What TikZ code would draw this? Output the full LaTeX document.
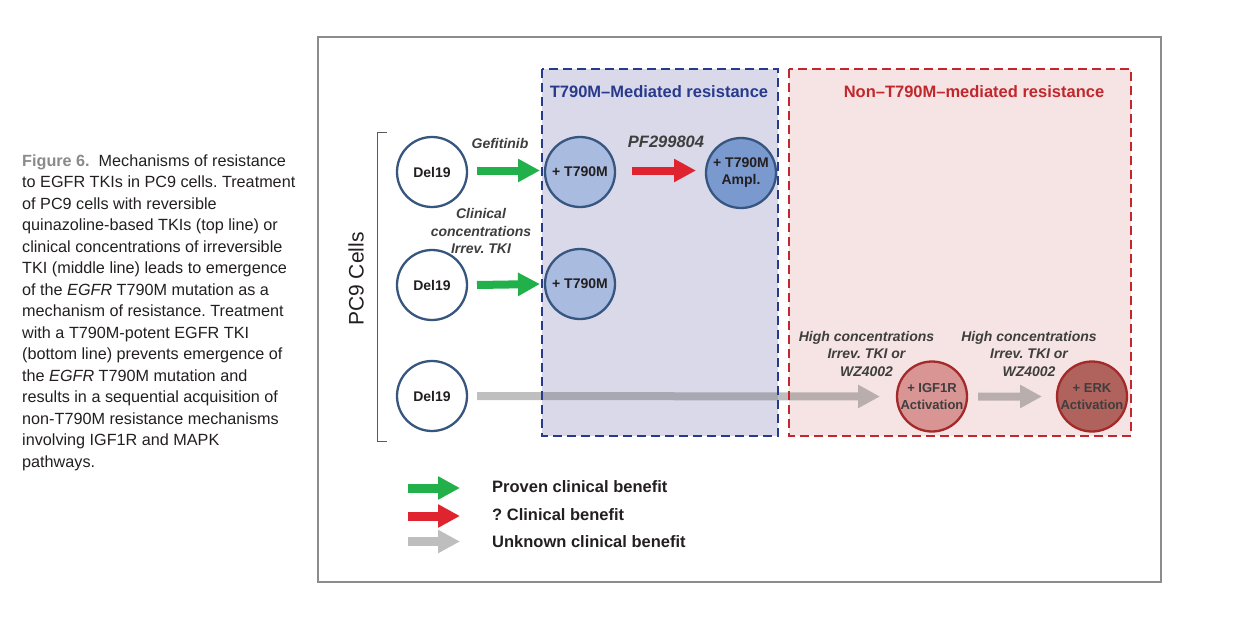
\documentclass[tikz,border=0pt]{standalone}
\usepackage{fontspec}
\setmainfont{Liberation Sans}
\usetikzlibrary{arrows.meta}
\frenchspacing
\definecolor{bluefill}{HTML}{D9D9EA}
\definecolor{blueedge}{HTML}{283A8C}
\definecolor{redfill}{HTML}{F5E4E3}
\definecolor{rededge}{HTML}{C1272D}
\definecolor{circedge}{HTML}{36557F}
\definecolor{t790fill}{HTML}{A9BCE0}
\definecolor{amplfill}{HTML}{7A9ACF}
\definecolor{igffill}{HTML}{D99494}
\definecolor{erkfill}{HTML}{B0625C}
\definecolor{darkred}{HTML}{A3292B}
\definecolor{garrowc}{HTML}{22B04B}
\definecolor{rarrowc}{HTML}{E0242F}
\definecolor{grayarrowc}{HTML}{BEBEBE}
\definecolor{grayarrowt}{HTML}{636363}
\definecolor{labelgray}{HTML}{3E3E3E}
\definecolor{captiongray}{HTML}{8A8A8A}
\definecolor{textblack}{HTML}{231F20}
\definecolor{framegray}{HTML}{8C8C8C}
\begin{document}
\begin{tikzpicture}[x=1pt,y=-1pt,
  cell/.style={circle, minimum size=70pt, inner sep=0pt, outer sep=0pt, line width=2.3pt,
    draw=circedge, font=\fontsize{14}{17}\selectfont\bfseries, text=textblack, align=center},
  t790cell/.style={cell, fill=t790fill},
  amplcell/.style={cell, fill=amplfill},
  igfcell/.style={cell, fill=igffill, draw=darkred, text=labelgray, font=\fontsize{13}{16.5}\selectfont\bfseries},
  erkcell/.style={cell, fill=erkfill, draw=darkred, text=labelgray, font=\fontsize{13}{16.5}\selectfont\bfseries},
  fatarrow/.style={line width=8pt, -{Triangle[length=22pt,width=22pt]}},
  greenarrow/.style={fatarrow, draw=garrowc, fill=garrowc},
  redarrow/.style={fatarrow, draw=rarrowc, fill=rarrowc},
  grayarrow/.style={fatarrow, draw=grayarrowc, fill=grayarrowc},
  transarrow/.style={fatarrow, draw=grayarrowt, fill=grayarrowt},
  druglabel/.style={font=\fontsize{14}{17.5}\selectfont\bfseries\itshape, text=labelgray, align=center, inner sep=0pt},
  boxtitle/.style={font=\fontsize{16.5}{19}\selectfont\bfseries, inner sep=0pt},
  legendtext/.style={font=\fontsize{16.5}{19}\selectfont\bfseries, text=textblack, anchor=mid west, inner sep=0pt},
  captionline/.style={font=\fontsize{16.2}{19}\selectfont, text=textblack, anchor=mid west, inner sep=0pt},
  dashbox/.style={line width=2.6pt, dash pattern=on 9pt off 5pt}
]
\useasboundingbox (0,0) rectangle (1247,621);
% caption
\node[captionline] (c1) at (22,163.5) {{\color{captiongray}\bfseries Figure 6.}\ \ Mechanisms of resistance};
\node[captionline] (c2) at (22,185) {to EGFR TKIs in PC9 cells. Treatment};
\node[captionline] (c3) at (22,206.5) {of PC9 cells with reversible};
\node[captionline] (c4) at (22,228) {quinazoline-based TKIs (top line) or};
\node[captionline] (c5) at (22,249.5) {clinical concentrations of irreversible};
\node[captionline] (c6) at (22,271) {TKI (middle line) leads to emergence};
\node[captionline] (c7) at (22,292.5) {of the \textit{EGFR} T790M mutation as a};
\node[captionline] (c8) at (22,314) {mechanism of resistance. Treatment};
\node[captionline] (c9) at (22,335.5) {with a T790M-potent EGFR TKI};
\node[captionline] (c10) at (22,357) {(bottom line) prevents emergence of};
\node[captionline] (c11) at (22,378.5) {the \textit{EGFR} T790M mutation and};
\node[captionline] (c12) at (22,400) {results in a sequential acquisition of};
\node[captionline] (c13) at (22,421.5) {non-T790M resistance mechanisms};
\node[captionline] (c14) at (22,443) {involving IGF1R and MAPK};
\node[captionline] (c15) at (22,464.5) {pathways.};
% frame
\draw[line width=2.5pt, draw=framegray] (318,37) rectangle (1161,582);
% boxes
\fill[bluefill] (542,69) rectangle (778,436);
\fill[redfill] (789,69) rectangle (1131,436);
\node[boxtitle, text=blueedge] (bt) at (659,92) {T790M–Mediated resistance};
\node[boxtitle, text=rededge] (rt) at (974,92) {Non–T790M–mediated resistance};
% bracket
\draw[line width=0.9pt, draw=black!65] (387,132) -- (377.5,132) -- (377.5,441.5) -- (387,441.5);
\node[rotate=90, font=\fontsize{21}{24}\selectfont, text=textblack, inner sep=0pt] (pc9) at (356,279) {PC9 Cells};
% cells
\node[cell, fill=white] (d1) at (432,172) {Del19};
\node[cell, fill=white] (d2) at (432,285) {Del19};
\node[cell, fill=white] (d3) at (432,396) {Del19};
\node[t790cell] (t1) at (580,172) {+ T790M};
\node[t790cell] (t2) at (580,284) {+ T790M};
\node[amplcell] (a1) at (741,173) {+ T790M\\Ampl.};
\node[igfcell] (i1) at (932,396.5) {+ IGF1R\\Activation};
\node[erkcell] (e1) at (1092,396.5) {+ ERK\\Activation};
% arrows
\begin{scope}[transparency group, opacity=0.41]
\draw[transarrow] ([xshift=10pt]d3.east) -- ([xshift=-17pt]i1.west);
\draw[transarrow] ([xshift=11pt]i1.east) -- ([xshift=-15pt]e1.west);
\end{scope}
\draw[dashbox, draw=blueedge] (542,69) rectangle (778,436);
\draw[dashbox, draw=rededge] (789,69) rectangle (1131,436);
\draw[greenarrow] ([xshift=10pt,yshift=1.5pt]d1.east) -- ([xshift=-5pt,yshift=1.5pt]t1.west);
\draw[greenarrow] ([xshift=10pt]d2.east) -- ([xshift=-5pt]t2.west);
\draw[redarrow] ([xshift=17pt,yshift=1.5pt]t1.east) -- ([xshift=-10pt,yshift=2.5pt]a1.west);
% labels
\node[druglabel] (l1) at (500,143) {Gefitinib};
\node[druglabel] (l2) at (481,231) {Clinical\\concentrations\\Irrev. TKI};
\node[druglabel, font=\fontsize{16.5}{19}\selectfont\bfseries\itshape] (l3) at (666,142) {PF299804};
\node[druglabel] (l4) at (866.5,353.5) {High concentrations\\Irrev. TKI or\\WZ4002};
\node[druglabel] (l5) at (1029,353.5) {High concentrations\\Irrev. TKI or\\WZ4002};
% legend
\coordinate (g1s) at (408,488); \coordinate (g1e) at (460,488);
\coordinate (g2s) at (408,516); \coordinate (g2e) at (460,516);
\coordinate (g3s) at (408,541.5); \coordinate (g3e) at (460,541.5);
\draw[greenarrow, line width=9pt] (g1s) -- (g1e);
\draw[redarrow, line width=9pt] (g2s) -- (g2e);
\draw[grayarrow, line width=9pt] (g3s) -- (g3e);
\node[legendtext] (lt1) at (492,490) {Proven clinical benefit};
\node[legendtext] (lt2) at (492,518) {? Clinical benefit};
\node[legendtext] (lt3) at (492,545) {Unknown clinical benefit};
\end{tikzpicture}
\end{document}
